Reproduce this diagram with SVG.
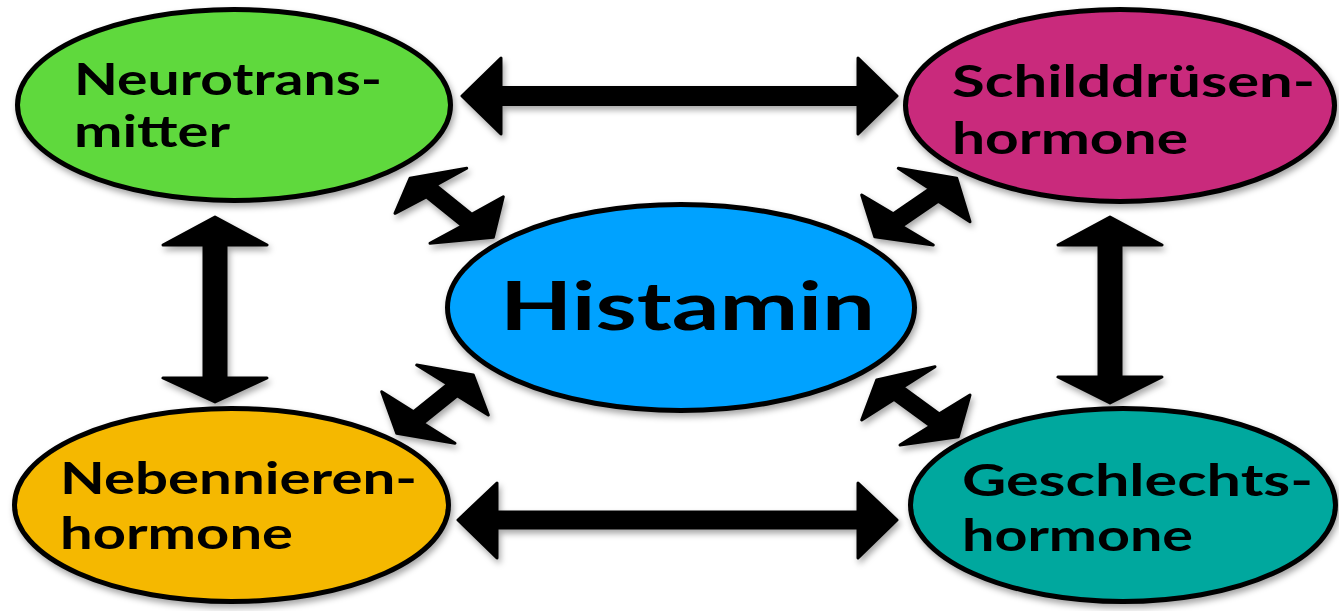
<svg xmlns="http://www.w3.org/2000/svg" width="1339" height="611" viewBox="0 0 1339 611">
<defs>
<filter id="sh" x="-10%" y="-10%" width="130%" height="130%">
<feDropShadow dx="2" dy="4" stdDeviation="3" flood-color="#000" flood-opacity="0.35"/>
</filter>
<style>
.node ellipse{stroke:#000;stroke-width:5;filter:url(#sh)}
.lbl{font-family:Lato,"Open Sans","DejaVu Sans",sans-serif;font-weight:700;font-size:44px;fill:#000}
.big{font-size:67px}
.arr{fill:#000;stroke:#000;stroke-width:3;stroke-linejoin:round;filter:url(#sh)}
</style>
</defs>
<rect width="1339" height="611" fill="#fff"/>
<g id="connectors">
<polygon class="arr" points="462,96 501,58 501,87.5 858,87.5 858,58 897,96 858,134 858,104.5 501,104.5 501,134"/>
<polygon class="arr" points="458,520 497,483 497,512 858,512 858,483 897,520 858,558 858,528 497,528 497,558"/>
<polygon class="arr" points="215,217 267,245 226,245 226,378 267,378 215,402 163,378 204,378 204,245 163,245"/>
<polygon class="arr" points="1110,217 1162,245 1121,245 1121,377 1162,377 1110,403 1058,377 1099,377 1099,245 1058,245"/>
<polygon class="arr" points="410,178.3 466.7,168.3 435.7,185.2 471.7,214.2 503.3,196.7 493.3,237.3 430,243.3 462.3,225.9 426.3,196.9 395,213.3"/>
<polygon class="arr" points="956.7,178.3 970,221.7 938.3,201.2 901.8,226.2 933.3,245 874.8,236.7 861.7,195 893.3,213.8 929.8,188.8 898.3,168.3"/>
<polygon class="arr" points="473.3,375 488.3,415 457.2,395.8 423,423.3 455,443.3 396.7,433.3 381.7,391.7 413.6,411.7 447.8,384.2 416.7,365"/>
<polygon class="arr" points="876.7,380 935,366.7 902.7,387.2 939.4,413.9 970,395 958.3,436.7 900,445 930.6,426.1 893.9,399.4 861.7,420"/>
</g>
<g id="node-neurotransmitter" class="node">
<ellipse cx="234" cy="105" rx="216.5" ry="95.5" fill="#5fd93c"/>
<text class="lbl" x="74" y="95" textLength="308" lengthAdjust="spacingAndGlyphs">Neurotrans-</text>
<text class="lbl" x="74" y="147" textLength="156" lengthAdjust="spacingAndGlyphs">mitter</text>
</g>
<g id="node-schilddruesen" class="node">
<ellipse cx="1120" cy="105.5" rx="214.5" ry="96" fill="#c92b7b"/>
<text class="lbl" x="952" y="97" textLength="363" lengthAdjust="spacingAndGlyphs">Schilddrüsen-</text>
<text class="lbl" x="952" y="154" textLength="236" lengthAdjust="spacingAndGlyphs">hormone</text>
</g>
<g id="node-histamin" class="node">
<ellipse cx="681" cy="307.5" rx="233.5" ry="103" fill="#00a2ff"/>
<text class="lbl big" x="500" y="330" textLength="375" lengthAdjust="spacingAndGlyphs">Histamin</text>
</g>
<g id="node-nebennieren" class="node">
<ellipse cx="231.5" cy="505" rx="217" ry="96.5" fill="#f5b800"/>
<text class="lbl" x="60" y="494" textLength="357" lengthAdjust="spacingAndGlyphs">Nebennieren-</text>
<text class="lbl" x="60" y="549" textLength="233" lengthAdjust="spacingAndGlyphs">hormone</text>
</g>
<g id="node-geschlecht" class="node">
<ellipse cx="1123" cy="505" rx="212.5" ry="96.5" fill="#03a89e"/>
<text class="lbl" x="962" y="496" textLength="351" lengthAdjust="spacingAndGlyphs">Geschlechts-</text>
<text class="lbl" x="962" y="551" textLength="231" lengthAdjust="spacingAndGlyphs">hormone</text>
</g>
</svg>
